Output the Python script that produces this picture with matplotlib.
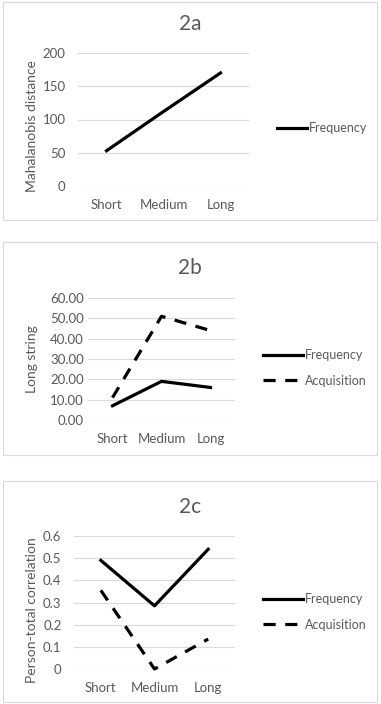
import matplotlib
matplotlib.use("Agg")
import matplotlib.pyplot as plt
from matplotlib.patches import Rectangle
from matplotlib.ticker import FormatStrFormatter

plt.rcParams['font.family'] = ['Lato', 'DejaVu Sans']

# --- data ---
categories = ['Short', 'Medium', 'Long']

freq_a = [53, 112, 170]

freq_b = [7, 19, 16]
acq_b = [11, 51, 44]

freq_c = [0.49, 0.285, 0.54]
acq_c = [0.355, 0.0, 0.135]

W, H = 381, 704
TXT = '#595959'
GRID = '#d9d9d9'
TICK_FS = 9.5
LEG_FS = 9
TITLE_FS = 15
YLAB_FS = 10
DASH = (3.8, 3.0)

fig = plt.figure(figsize=(W / 100, H / 100), dpi=100)


def px_axes(x0, y0, x1, y1):
    # pixel box (top-left origin) -> figure fraction axes
    return fig.add_axes([x0 / W, 1 - y1 / H, (x1 - x0) / W, (y1 - y0) / H])


def frame(y0, y1):
    fig.patches.append(Rectangle((3 / W, 1 - y1 / H), 374 / W, (y1 - y0) / H,
                                 transform=fig.transFigure, fill=False,
                                 edgecolor='#d9d9d9', lw=0.8))


def style(ax, ylim, yticks, fmt, ylabel, ypad=9):
    ax.set_xlim(-0.5, 2.5)
    ax.set_ylim(*ylim)
    ax.set_yticks(yticks)
    ax.yaxis.set_major_formatter(FormatStrFormatter(fmt))
    ax.set_xticks(range(3))
    ax.set_xticklabels(categories)
    for s in ax.spines.values():
        s.set_visible(False)
    ax.grid(axis='y', color=GRID, lw=0.8)
    ax.set_axisbelow(True)
    ax.tick_params(length=0, colors=TXT, labelsize=TICK_FS)
    ax.tick_params(axis='x', pad=9.5)
    ax.tick_params(axis='y', pad=ypad)
    ax.set_ylabel(ylabel, color=TXT, fontsize=YLAB_FS)


def legend(ax, y, hl, x=270):
    ax.legend(loc='center left', bbox_to_anchor=(x / W, 1 - y / H),
              bbox_transform=fig.transFigure, frameon=False, fontsize=LEG_FS,
              handlelength=hl, handletextpad=0.1, labelcolor=TXT, borderpad=0,
              labelspacing=1.05)


# --- 2a ---
frame(2, 220)
ax = px_axes(78, 53, 249, 186)
ax.plot(range(3), freq_a, color='black', lw=2.3, label='Frequency', clip_on=False)
style(ax, (0, 200), [0, 50, 100, 150, 200], '%d', 'Mahalanobis distance')
ax.yaxis.set_label_coords(-0.234, 0.45)
fig.text(190 / W, 1 - 24 / H, '2a', ha='center', va='center', fontsize=TITLE_FS, color=TXT)
legend(ax, 128, 2.4, x=271)

# --- 2b ---
frame(242, 455)
ax = px_axes(88, 298, 235, 420)
ax.plot(range(3), freq_b, color='black', lw=2.3, label='Frequency', clip_on=False)
ax.plot(range(3), acq_b, color='black', lw=2.3, dashes=DASH, label='Acquisition', clip_on=False)
style(ax, (0, 60), [0, 10, 20, 30, 40, 50, 60], '%.2f', 'Long string', ypad=3)
ax.yaxis.set_label_coords(-0.34, 0.5)
fig.text(190 / W, 1 - 268 / H, '2b', ha='center', va='center', fontsize=TITLE_FS, color=TXT)
legend(ax, 368, 3.2, x=257)

# --- 2c ---
frame(481, 702)
ax = px_axes(74, 536, 235, 669)
ax.plot(range(3), freq_c, color='black', lw=2.3, label='Frequency', clip_on=False)
ax.plot(range(3), acq_c, color='black', lw=2.3, dashes=DASH, label='Acquisition', clip_on=False)
style(ax, (0, 0.6), [0, 0.1, 0.2, 0.3, 0.4, 0.5, 0.6], '%g', 'Person-total correlation')
ax.yaxis.set_label_coords(-0.224, 0.44)
fig.text(190 / W, 1 - 507 / H, '2c', ha='center', va='center', fontsize=TITLE_FS, color=TXT)
legend(ax, 612, 3.2, x=257)

fig.savefig('out.png', dpi=100, facecolor='white')
